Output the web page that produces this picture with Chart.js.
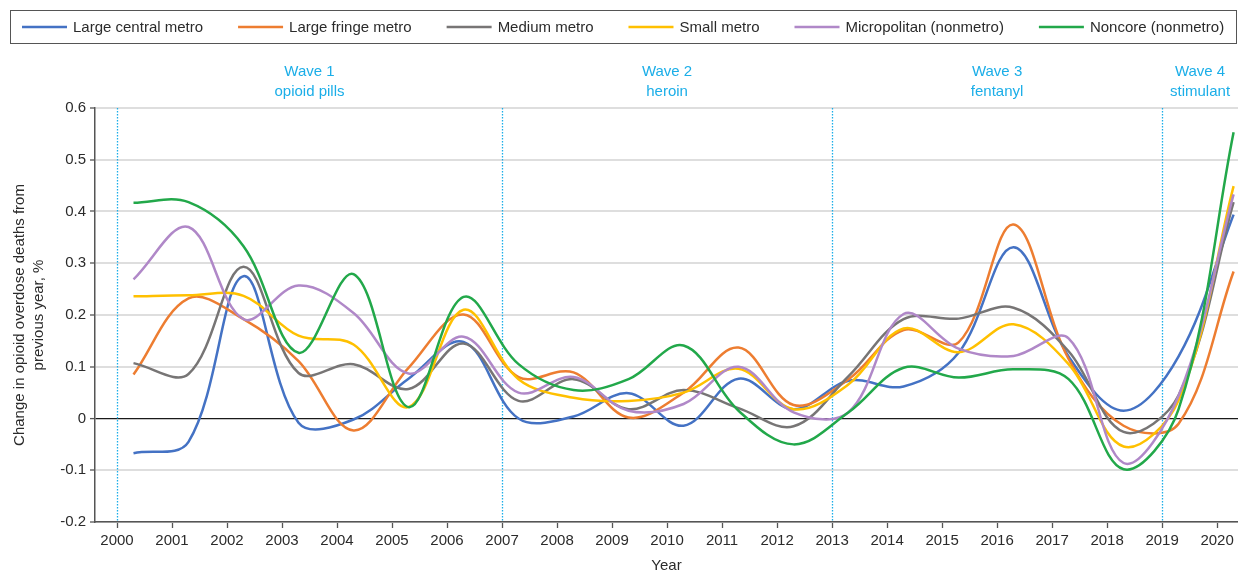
<!DOCTYPE html>
<html><head><meta charset="utf-8">
<style>html,body{margin:0;padding:0;background:#fff;}#wrap{width:1238px;height:576px;}</style>
<script src="https://cdn.jsdelivr.net/npm/chart.js@4.4.1/dist/chart.umd.min.js"></script>
</head><body><div id="wrap"><canvas id="c" width="1238" height="576"></canvas></div>
<script>
const years = [2000,2001,2002,2003,2004,2005,2006,2007,2008,2009,2010,2011,2012,2013,2014,2015,2016,2017,2018,2019,2020];
const seriesNames = ['Large central metro','Large fringe metro','Medium metro','Small metro','Micropolitan (nonmetro)','Noncore (nonmetro)'];
const largeCentral = [-0.067,-0.045,0.275,-0.008,-0.002,0.077,0.148,0.000,0.004,0.049,-0.014,0.077,0.018,0.073,0.062,0.127,0.331,0.120,0.015,0.120,0.394];
const largeFringe  = [0.085,0.232,0.192,0.111,-0.023,0.098,0.201,0.080,0.089,0.002,0.050,0.137,0.026,0.076,0.171,0.147,0.375,0.115,-0.014,-0.010,0.284];
const mediumMetro  = [0.107,0.086,0.293,0.088,0.105,0.057,0.145,0.034,0.076,0.018,0.055,0.020,-0.015,0.082,0.192,0.193,0.214,0.130,-0.026,0.045,0.418];
const smallMetro   = [0.236,0.238,0.237,0.160,0.143,0.022,0.210,0.076,0.040,0.034,0.050,0.096,0.018,0.066,0.174,0.128,0.182,0.105,-0.054,0.035,0.449];
const micropolitan = [0.269,0.370,0.192,0.257,0.204,0.087,0.158,0.050,0.080,0.015,0.028,0.100,0.012,0.012,0.202,0.135,0.121,0.155,-0.086,0.044,0.433];
const noncore      = [0.417,0.418,0.333,0.127,0.279,0.022,0.235,0.105,0.055,0.076,0.141,0.015,-0.050,0.012,0.098,0.079,0.095,0.076,-0.098,0.018,0.553];
const yTicks = [-0.2,-0.1,0,0.1,0.2,0.3,0.4,0.5,0.6];
const waveStarts = [2000,2007,2013,2019];
const waveTitles = ['Wave 1','Wave 2','Wave 3','Wave 4'];
const waveDrugs = ['opioid pills','heroin','fentanyl','stimulant'];

const allSeries = [largeCentral,largeFringe,mediumMetro,smallMetro,micropolitan,noncore];
const colors = ['#4472C4','#ED7D31','#777575','#FFC000','#B088C8','#22A84A'];
const FONT = "'Liberation Sans', Arial, sans-serif";
const TXT = '#2b2b2b';
const WAVE = '#1BAEE8';
const PLOT_OFFSET = 0.3;

const datasets = allSeries.map((arr,i)=>({
  label: seriesNames[i],
  data: arr.map((v,j)=>({x: years[j] + PLOT_OFFSET, y: v})),
  borderColor: colors[i],
  backgroundColor: colors[i],
  borderWidth: 2.5,
  pointRadius: 0,
  tension: 0.36,
  order: allSeries.length - i,
  clip: false
}));

const wavePlugin = {
  id: 'waves',
  beforeDatasetsDraw(chart){
    const {ctx, chartArea:a, scales:{x}} = chart;
    ctx.save();
    ctx.strokeStyle = WAVE; ctx.lineWidth = 1.3; ctx.setLineDash([1.5,1.5]);
    waveStarts.forEach(w=>{
      const px = Math.round(x.getPixelForValue(w)) + 0.5;
      ctx.beginPath(); ctx.moveTo(px, a.top); ctx.lineTo(px, a.bottom); ctx.stroke();
    });
    ctx.restore();
  },
  afterDraw(chart){
    const {ctx, chartArea:a, scales:{x}} = chart;
    ctx.save();
    ctx.fillStyle = WAVE; ctx.font = '15px ' + FONT; ctx.textAlign = 'center'; ctx.textBaseline = 'middle';
    waveStarts.forEach((w,i)=>{
      const x0 = x.getPixelForValue(w);
      const x1 = i < waveStarts.length-1 ? x.getPixelForValue(waveStarts[i+1]) : a.right;
      const cx = (x0+x1)/2;
      ctx.fillText(waveTitles[i], cx, 72);
      ctx.fillText(waveDrugs[i], cx, 92);
    });
    // legend
    ctx.setLineDash([]);
    ctx.strokeStyle = '#555'; ctx.lineWidth = 1;
    ctx.strokeRect(10.5, 10.5, 1226, 33);
    ctx.font = '15px ' + FONT; ctx.textAlign = 'left'; ctx.textBaseline = 'middle';
    let lx = 22;
    chart.data.datasets.forEach(ds=>{
      ctx.strokeStyle = ds.borderColor; ctx.lineWidth = 2.5;
      ctx.beginPath(); ctx.moveTo(lx, 27); ctx.lineTo(lx+45, 27); ctx.stroke();
      ctx.fillStyle = TXT;
      ctx.fillText(ds.label, lx+51, 27.5);
      lx += 51 + ctx.measureText(ds.label).width + 35;
    });
    ctx.restore();
  }
};

new Chart(document.getElementById('c'), {
  type: 'line',
  data: { datasets },
  plugins: [wavePlugin],
  options: {
    responsive: false, animation: false, devicePixelRatio: 1,
    layout: { padding: { top: 108, right: 0, left: 0, bottom: 0 } },
    plugins: { legend: { display: false }, tooltip: { enabled: false } },
    scales: {
      x: {
        type: 'linear', min: 1999.6, max: 2020.38,
        afterBuildTicks: s => { s.ticks = years.map(v=>({value:v})); },
        afterFit: s => { s.height = 54; },
        ticks: { callback: v => String(v), color: TXT, font: { family: FONT, size: 15 }, padding: 4, maxRotation: 0, autoSkip: false },
        grid: { drawOnChartArea: false, drawTicks: true, tickLength: 6, tickColor: '#555', tickWidth: 1.3 },
        border: { color: '#555', width: 1.5 },
        title: { display: true, text: 'Year', color: TXT, font: { family: FONT, size: 15, lineHeight: 1.2 }, padding: { top: 0, bottom: 1 } }
      },
      y: {
        min: -0.2, max: 0.6,
        afterBuildTicks: s => { s.ticks = yTicks.map(v=>({value:v})); },
        afterFit: s => { s.width = 95; },
        ticks: { callback: v => String(v), color: TXT, font: { family: FONT, size: 15 }, padding: 4 },
        grid: {
          color: c => (c.tick && c.tick.value === 0) ? '#1a1a1a' : '#dedede',
          lineWidth: c => (c.tick && c.tick.value === 0) ? 1.2 : 2,
          tickLength: 5, tickColor: '#555', tickWidth: 1.3
        },
        border: { color: '#555', width: 1.5 },
        title: { display: true, text: ['Change in opioid overdose deaths from','previous year, %'], color: TXT, font: { family: FONT, size: 15, lineHeight: 1.3 }, padding: { top: 10, bottom: 0 } }
      }
    }
  }
});
</script></body></html>
